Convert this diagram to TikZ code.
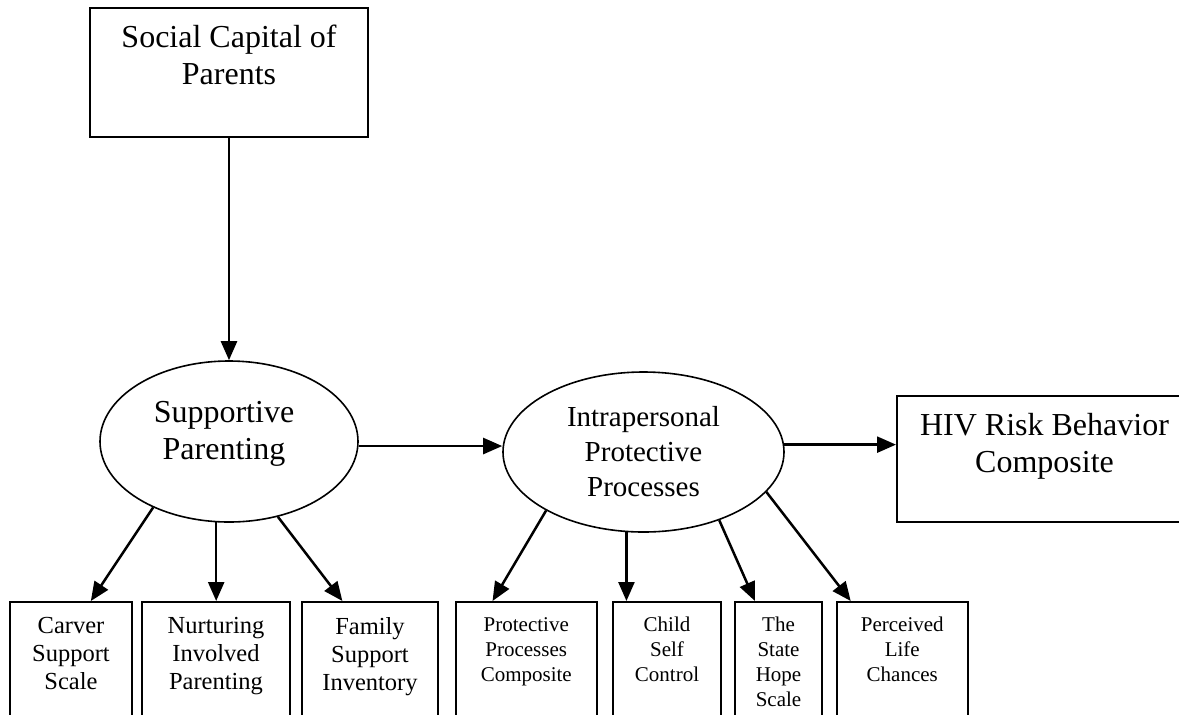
\documentclass[tikz,border=0pt]{standalone}
\usepackage{fontspec}
\setmainfont{Liberation Serif}
\usetikzlibrary{arrows.meta, positioning, fit, shapes.geometric, calc}
\tikzset{
  box_frame/.style={draw=black, line width=1pt, inner sep=0pt},
  box_label/.style={align=center, inner sep=0pt},
  latent_node/.style={ellipse, draw=black, line width=0.8pt, inner sep=0pt, align=center},
  dep_arrow/.style={line width=1.25pt, -{Triangle[length=9.5pt, width=8pt]}},
  big_text/.style={font=\fontsize{16}{18.5}\selectfont},
  mid_text/.style={font=\fontsize{14.5}{17.5}\selectfont},
  small_text/.style={font=\fontsize{12.25}{14}\selectfont},
  tiny_text/.style={font=\fontsize{10.5}{12.5}\selectfont}
}

\begin{document}
\begin{tikzpicture}[x=0.5pt, y=-0.5pt]
\useasboundingbox (0,0) rectangle (1179,714);
\begin{scope}
\clip (0,0) rectangle (1179,714);
% top measure box
\node[box_frame, fit={(90,8) (368,137)}] (social_box) {};
\node[box_label, big_text, below=9pt of social_box.north] (social_text) {Social Capital of\\Parents};
% latent variables
\node[latent_node, minimum width=129pt, minimum height=80.5pt] (supp_node) at (229,441.5) {};
\node[box_label, big_text, xshift=-2.5pt, yshift=4pt] (supp_text) at (supp_node.center) {Supportive\\Parenting};
\node[latent_node, mid_text, minimum width=140.5pt, minimum height=80pt] (intra_node) at (643.5,452) {Intrapersonal\\Protective\\Processes};
% outcome
\node[box_frame, fit={(897,396) (1192,522)}] (hiv_box) {};
\node[box_label, big_text, below=9pt of hiv_box.north] (hiv_text) {HIV Risk Behavior\\Composite};
% indicators of supportive parenting
\node[box_frame, fit={(10,602) (132,760)}] (carver_box) {};
\node[box_label, small_text, below=8pt of carver_box.north] (carver_text) {Carver\\Support\\Scale};
\node[box_frame, fit={(142,602) (290,760)}] (nurture_box) {};
\node[box_label, small_text, below=8pt of nurture_box.north] (nurture_text) {Nurturing\\Involved\\Parenting};
\node[box_frame, fit={(302,602) (438,760)}] (family_box) {};
\node[box_label, small_text, below=8pt of family_box.north] (family_text) {Family\\Support\\Inventory};
% indicators of intrapersonal processes
\node[box_frame, fit={(455.5,602) (597,760)}] (protect_box) {};
\node[box_label, tiny_text, below=8pt of protect_box.north] (protect_text) {Protective\\Processes\\Composite};
\node[box_frame, fit={(613,602) (721,760)}] (child_box) {};
\node[box_label, tiny_text, below=8pt of child_box.north] (child_text) {Child\\Self\\Control};
\node[box_frame, fit={(735,602) (822,760)}] (hope_box) {};
\node[box_label, tiny_text, below=8pt of hope_box.north] (hope_text) {The\\State\\Hope\\Scale};
\node[box_frame, fit={(836.5,602) (968,760)}] (perceive_box) {};
\node[box_label, tiny_text, below=8pt of perceive_box.north] (perceive_text) {Perceived\\Life\\Chances};
% paths
\draw[dep_arrow] (social_box.south) -- (supp_node.north);
\draw[dep_arrow] (supp_node.-2) -- (supp_node.-2 -| intra_node.west);
\draw[dep_arrow] (intra_node.3) -- (intra_node.3 -| hiv_box.west);
\draw[dep_arrow] (supp_node.221) -- ($(carver_box.north west)!0.66!(carver_box.north east)$);
\draw[dep_arrow] (supp_node.261) -- (supp_node.261 |- nurture_box.north);
\draw[dep_arrow] (supp_node.303) -- ($(family_box.north west)!0.3!(family_box.north east)$);
\draw[dep_arrow] (intra_node.211) -- ($(protect_box.north west)!0.265!(protect_box.north east)$);
\draw[dep_arrow] (intra_node.258) -- (intra_node.258 |- child_box.north);
\draw[dep_arrow] (intra_node.318) -- ($(hope_box.north west)!0.236!(hope_box.north east)$);
\draw[dep_arrow] (intra_node.342) -- ($(perceive_box.north west)!0.114!(perceive_box.north east)$);
\end{scope}
\end{tikzpicture}
\end{document}
